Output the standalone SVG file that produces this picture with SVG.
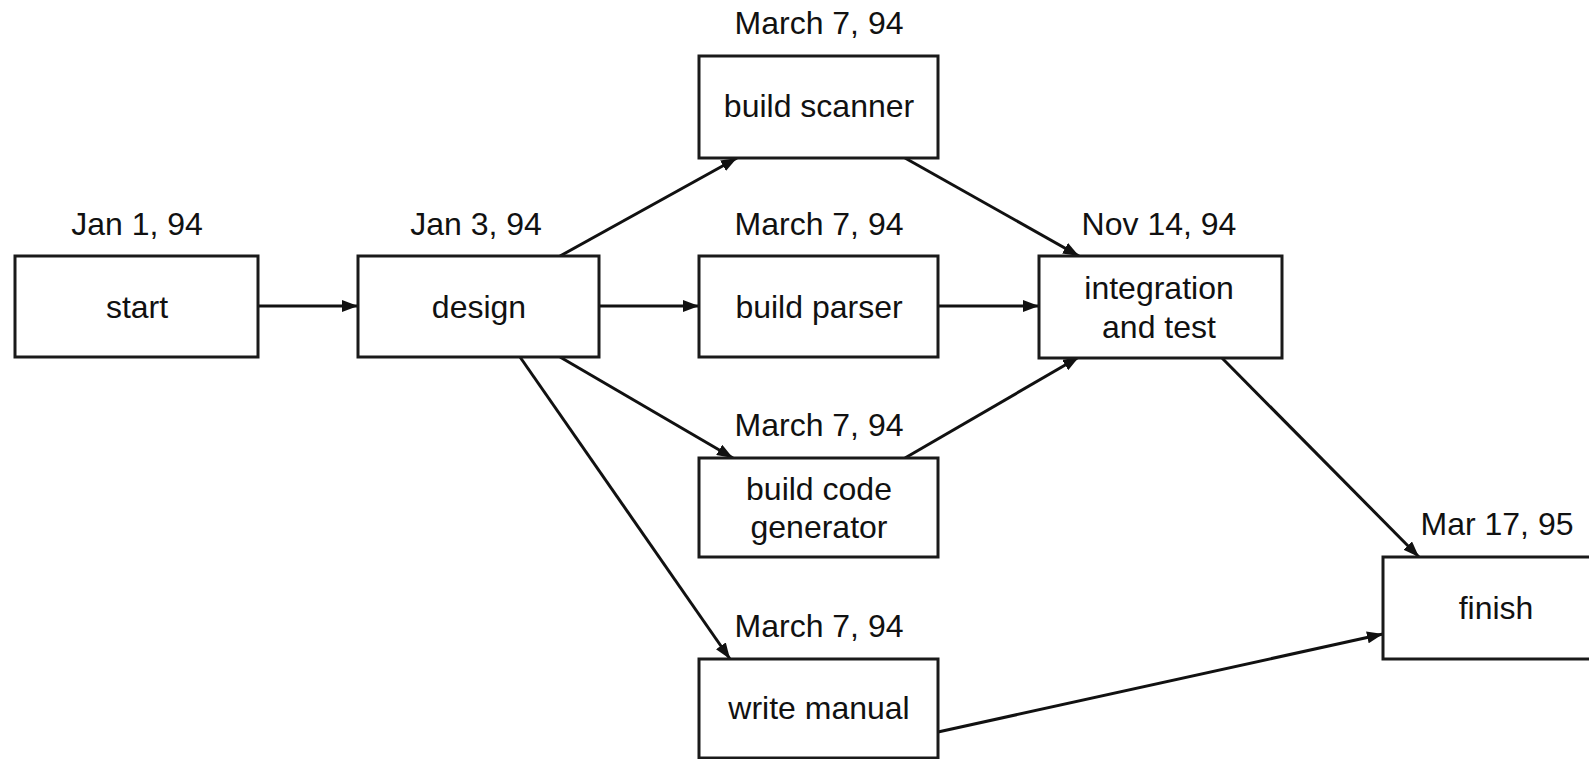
<svg xmlns="http://www.w3.org/2000/svg" width="1589" height="759" viewBox="0 0 1589 759">
  <style>
    .box { fill: #ffffff; stroke: #1a1a1a; stroke-width: 3; }
    .lbl { font-family: "Liberation Sans", Arial, sans-serif; font-size: 32px; fill: #111111; text-anchor: middle; }
    .edge { stroke: #111111; stroke-width: 3; fill: none; marker-end: url(#arrow); }
  </style>
  <defs>
    <marker id="arrow" markerUnits="userSpaceOnUse" markerWidth="18" markerHeight="12" refX="16" refY="6" orient="auto">
      <path d="M0,0 L16,6 L0,12 Z" fill="#111111"/>
    </marker>
  </defs>
  <rect width="1589" height="759" fill="#ffffff"/>

  <g id="connectors">
    <line class="edge" x1="258" y1="306" x2="358" y2="306"/>
    <line class="edge" x1="560" y1="256" x2="737" y2="158"/>
    <line class="edge" x1="599" y1="306" x2="699" y2="306"/>
    <line class="edge" x1="560" y1="357" x2="733" y2="458"/>
    <line class="edge" x1="520" y1="357" x2="730" y2="659"/>
    <line class="edge" x1="905" y1="158" x2="1079" y2="256"/>
    <line class="edge" x1="938" y1="306" x2="1039" y2="306"/>
    <line class="edge" x1="905" y1="458" x2="1079" y2="357"/>
    <line class="edge" x1="1221" y1="357" x2="1419" y2="557"/>
    <line class="edge" x1="938" y1="732" x2="1383" y2="634"/>
  </g>

  <g id="start">
    <rect class="box" x="15" y="256" width="243" height="101"/>
    <text class="lbl" x="137" y="235">Jan 1, 94</text>
    <text class="lbl" x="137" y="318">start</text>
  </g>

  <g id="design">
    <rect class="box" x="358" y="256" width="241" height="101"/>
    <text class="lbl" x="476" y="235">Jan 3, 94</text>
    <text class="lbl" x="479" y="318">design</text>
  </g>

  <g id="build-scanner">
    <rect class="box" x="699" y="56" width="239" height="102"/>
    <text class="lbl" x="819" y="34">March 7, 94</text>
    <text class="lbl" x="819" y="117">build scanner</text>
  </g>

  <g id="build-parser">
    <rect class="box" x="699" y="256" width="239" height="101"/>
    <text class="lbl" x="819" y="235">March 7, 94</text>
    <text class="lbl" x="819" y="318">build parser</text>
  </g>

  <g id="build-code-generator">
    <rect class="box" x="699" y="458" width="239" height="99"/>
    <text class="lbl" x="819" y="436">March 7, 94</text>
    <text class="lbl" x="819" y="500">build code</text>
    <text class="lbl" x="819" y="538">generator</text>
  </g>

  <g id="write-manual">
    <rect class="box" x="699" y="659" width="239" height="99"/>
    <text class="lbl" x="819" y="637">March 7, 94</text>
    <text class="lbl" x="819" y="719">write manual</text>
  </g>

  <g id="integration-and-test">
    <rect class="box" x="1039" y="256" width="243" height="102"/>
    <text class="lbl" x="1159" y="235">Nov 14, 94</text>
    <text class="lbl" x="1159" y="299">integration</text>
    <text class="lbl" x="1159" y="338">and test</text>
  </g>

  <g id="finish">
    <rect class="box" x="1383" y="557" width="230" height="102"/>
    <text class="lbl" x="1497" y="535">Mar 17, 95</text>
    <text class="lbl" x="1496" y="619">finish</text>
  </g>
</svg>
